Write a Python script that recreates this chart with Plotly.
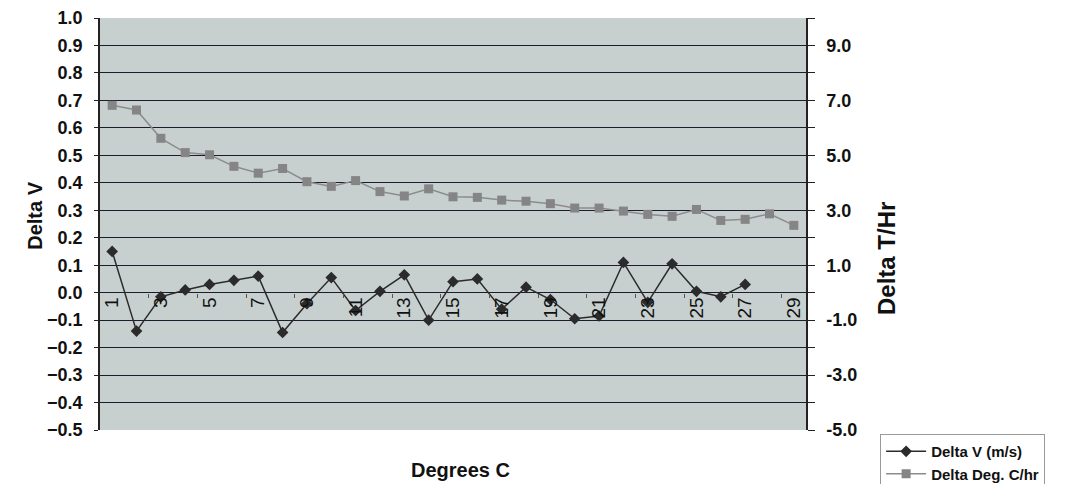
import plotly.graph_objects as go

categories = list(range(1, 30))
x_tick_vals = list(range(1, 30, 2))
x_tick_text = [str(v) for v in x_tick_vals]

delta_v = [0.15, -0.14, -0.015, 0.01, 0.03, 0.045, 0.06, -0.145, -0.04, 0.055,
           -0.065, 0.005, 0.065, -0.10, 0.04, 0.05, -0.06, 0.02, -0.025, -0.095,
           -0.085, 0.11, -0.035, 0.105, 0.005, -0.015, 0.03]

delta_t = [6.82, 6.65, 5.62, 5.1, 5.02, 4.6, 4.35, 4.52, 4.04, 3.87,
           4.08, 3.68, 3.52, 3.78, 3.49, 3.47, 3.37, 3.33, 3.24, 3.08,
           3.08, 2.97, 2.85, 2.78, 3.03, 2.63, 2.67, 2.87, 2.45]

left_ticks = [round(-0.5 + 0.1 * i, 1) for i in range(16)]
right_ticks = list(range(-5, 11))
right_text = [f"{v:.1f}" if v % 2 != 0 else "" for v in right_ticks]

FONT = "Liberation Sans, Arial, sans-serif"

fig = go.Figure()
fig.add_trace(go.Scatter(
    x=categories[:len(delta_v)], y=delta_v, name="<b>Delta V (m/s)</b>",
    mode="lines+markers",
    line=dict(color="#2b2b2b", width=1.5),
    marker=dict(symbol="diamond", size=9, color="#2b2b2b"),
    yaxis="y"))
fig.add_trace(go.Scatter(
    x=categories, y=delta_t, name="<b>Delta Deg. C/hr</b>",
    mode="lines+markers",
    line=dict(color="#8c8c8c", width=1.5),
    marker=dict(symbol="square", size=9, color="#858585"),
    yaxis="y2"))

fig.update_layout(
    width=1075, height=484,
    margin=dict(l=100, r=269, t=18, b=54, autoexpand=False),
    paper_bgcolor="white",
    plot_bgcolor="#c7d0cf",
    font=dict(family=FONT, color="#111"),
    xaxis=dict(
        range=[0.5, 29.5], anchor="free", position=1/3,
        tickmode="array", tickvals=x_tick_vals, ticktext=x_tick_text,
        tickangle=-90, tickfont=dict(size=19, color="#111"),
        ticks="", showgrid=False, zeroline=False, showline=False,
        minor=dict(tickmode="array", tickvals=[v + 0.5 for v in range(2, 29, 2)],
                   ticks="outside", ticklen=4, tickcolor="#555", showgrid=False),
    ),
    yaxis=dict(
        range=[-0.5, 1.0], tickmode="array", tickvals=left_ticks,
        tickformat=".1f", tickfont=dict(size=18, weight="bold", color="#111"),
        showgrid=True, gridcolor="#1c1c2c", gridwidth=1,
        zeroline=False, showline=True, linecolor="#222", linewidth=1.5,
        ticks="outside", ticklen=4, tickcolor="#222", ticklabelstandoff=8,
    ),
    yaxis2=dict(
        range=[-5, 10], overlaying="y", side="right",
        tickmode="array", tickvals=right_ticks, ticktext=right_text,
        tickfont=dict(size=18, weight="bold", color="#111"),
        showgrid=False, zeroline=False, showline=True, linecolor="#222",
        linewidth=1.5, ticks="outside", ticklen=7, tickcolor="#222",
        ticklabelstandoff=8,
    ),
    showlegend=True,
    legend=dict(x=1.105, y=-0.01, xanchor="left", yanchor="top",
                bgcolor="white", bordercolor="#999", borderwidth=1,
                font=dict(size=15, color="#111"), itemwidth=40,
                tracegroupgap=0),
    annotations=[
        dict(text="<b>Degrees C</b>", x=0.51, y=-0.097, xref="paper", yref="paper",
             showarrow=False, font=dict(size=20, color="#111"),
             xanchor="center", yanchor="middle"),
        dict(text="<b>Delta V</b>", x=(35 - 100) / 706, y=0.52, xref="paper", yref="paper",
             showarrow=False, font=dict(size=20, color="#111"), textangle=-90,
             xanchor="center", yanchor="middle"),
        dict(text="<b>Delta T/Hr</b>", x=(886 - 100) / 706, y=(430 - 259) / 412,
             xref="paper", yref="paper", showarrow=False,
             font=dict(size=24, color="#111"), textangle=-90,
             xanchor="center", yanchor="middle"),
    ],
)

fig.write_html("out.html")
